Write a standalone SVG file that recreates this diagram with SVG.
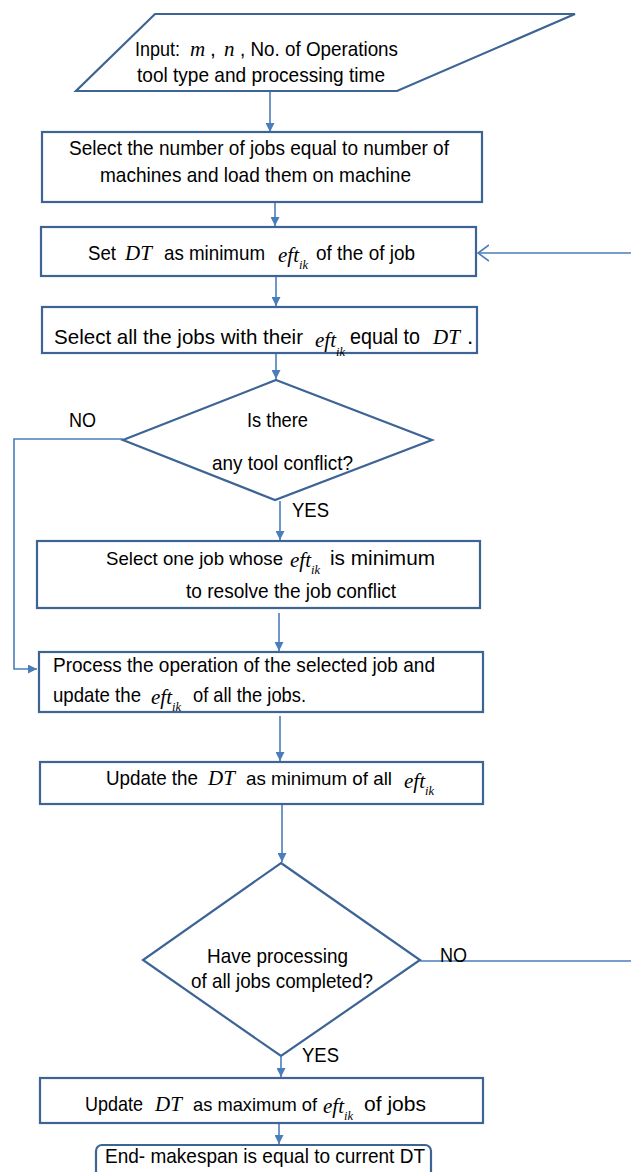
<svg xmlns="http://www.w3.org/2000/svg" width="631" height="1172" viewBox="0 0 631 1172">
<style>
.n{fill:#fff;stroke:#3D6494;stroke-width:2.2}
.c{fill:none;stroke:#4A7EBB;stroke-width:1.6}
.t{font-family:"Liberation Sans",Arial,sans-serif;font-size:21px;fill:#000}
.b{font-size:22.5px}
.v{font-family:"Liberation Serif","Times New Roman",serif;font-style:italic;font-size:21px;fill:#000}
.s{font-size:12.5px}
</style>
<defs>
<marker id="ah" viewBox="0 0 10 10" refX="10" refY="5" markerWidth="11" markerHeight="9" markerUnits="userSpaceOnUse" orient="auto"><path d="M0,0 L10,5 L0,10 z" fill="#4A7EBB"/></marker>
<marker id="oa" viewBox="0 0 12 18" refX="11" refY="9" markerWidth="12" markerHeight="18" markerUnits="userSpaceOnUse" orient="auto"><path d="M0,1 L11,9 L0,17" fill="none" stroke="#4A7EBB" stroke-width="1.6"/></marker>
</defs>
<rect width="631" height="1172" fill="#fff"/>
<g id="connectors">
<path class="c" d="M270,92 V132" marker-end="url(#ah)"/>
<path class="c" d="M275,203 V226" marker-end="url(#ah)"/>
<path class="c" d="M276,277 V306" marker-end="url(#ah)"/>
<path class="c" d="M276,354 V379" marker-end="url(#ah)"/>
<path class="c" d="M280,501 V540" marker-end="url(#ah)"/>
<path class="c" d="M279,613 V651" marker-end="url(#ah)"/>
<path class="c" d="M280,716 V761" marker-end="url(#ah)"/>
<path class="c" d="M282,801 V862" marker-end="url(#ah)"/>
<path class="c" d="M281,1057 V1077" marker-end="url(#ah)"/>
<path class="c" d="M279,1124 V1144" marker-end="url(#ah)"/>
<path class="c" d="M123,439 H14 V669 H37" marker-end="url(#ah)"/>
<path class="c" d="M420,961 H634 V253 H478" marker-end="url(#oa)"/>
<text class="t" x="69" y="427" textLength="27" lengthAdjust="spacingAndGlyphs">NO</text>
<text class="t" x="292" y="517" textLength="37" lengthAdjust="spacingAndGlyphs">YES</text>
<text class="t" x="440" y="962" textLength="27" lengthAdjust="spacingAndGlyphs">NO</text>
<text class="t" x="302" y="1062" textLength="37" lengthAdjust="spacingAndGlyphs">YES</text>
</g>
<g id="input">
<path class="n" d="M155,14 H575 L397,91 H76 Z"/>
<text class="t" x="135" y="56" textLength="45" lengthAdjust="spacingAndGlyphs">Input:</text>
<text class="v" x="190" y="56">m</text>
<text class="t" x="210" y="56">,</text>
<text class="v" x="224" y="56">n</text>
<text class="t" x="240" y="56" textLength="158" lengthAdjust="spacingAndGlyphs">, No. of Operations</text>
<text class="t" x="137" y="82" textLength="248" lengthAdjust="spacingAndGlyphs">tool type and processing time</text>
</g>
<g id="select-jobs">
<rect class="n" x="42" y="132" width="440" height="70"/>
<text class="t" x="69" y="155" textLength="380" lengthAdjust="spacingAndGlyphs">Select the number of jobs equal to number of</text>
<text class="t" x="100" y="182" textLength="311" lengthAdjust="spacingAndGlyphs">machines and load them on machine</text>
</g>
<g id="set-dt">
<rect class="n" x="41" y="227" width="435" height="49"/>
<text class="t" x="88" y="260" textLength="28" lengthAdjust="spacingAndGlyphs">Set</text>
<text class="v" x="125" y="260">DT</text>
<text class="t" x="164" y="260" textLength="101" lengthAdjust="spacingAndGlyphs">as minimum</text>
<text class="v" x="278" y="262">eft<tspan class="s" dy="7">ik</tspan></text>
<text class="t" x="316" y="260" textLength="99" lengthAdjust="spacingAndGlyphs">of the of job</text>
</g>
<g id="select-all">
<rect class="n" x="42" y="307" width="435" height="46"/>
<text class="t" style="font-size:20.4px" x="54" y="344" textLength="249" lengthAdjust="spacingAndGlyphs">Select all the jobs with their</text>
<text class="v" x="315" y="347">eft<tspan class="s" dy="9">ik</tspan></text>
<text class="t b" x="350" y="344" textLength="70" lengthAdjust="spacingAndGlyphs">equal to</text>
<text class="v" x="433" y="344">DT</text>
<text class="t b" x="467" y="344">.</text>
</g>
<g id="tool-conflict">
<path class="n" d="M276,380 L432,440 L275,500 L123,440 Z"/>
<text class="t" x="247" y="427" textLength="61" lengthAdjust="spacingAndGlyphs">Is there</text>
<text class="t" x="212" y="470" textLength="141" lengthAdjust="spacingAndGlyphs">any tool conflict?</text>
</g>
<g id="select-one">
<rect class="n" x="37" y="541" width="443" height="67"/>
<text class="t" style="font-size:18.5px" x="106" y="565" textLength="177" lengthAdjust="spacingAndGlyphs">Select one job whose</text>
<text class="v" x="290" y="567">eft<tspan class="s" dy="7">ik</tspan></text>
<text class="t" x="330" y="565" textLength="105" lengthAdjust="spacingAndGlyphs">is minimum</text>
<text class="t" x="186" y="598" textLength="210" lengthAdjust="spacingAndGlyphs">to resolve the job conflict</text>
</g>
<g id="process">
<rect class="n" x="39" y="652" width="444" height="60"/>
<text class="t" x="53" y="672" textLength="382" lengthAdjust="spacingAndGlyphs">Process the operation of the selected job and</text>
<text class="t" x="53" y="702" textLength="88" lengthAdjust="spacingAndGlyphs">update the</text>
<text class="v" x="151" y="704">eft<tspan class="s" dy="7">ik</tspan></text>
<text class="t" x="193" y="702" textLength="113" lengthAdjust="spacingAndGlyphs">of all the jobs.</text>
</g>
<g id="update-min">
<rect class="n" x="40" y="762" width="443" height="42"/>
<text class="t" x="106" y="785" textLength="92" lengthAdjust="spacingAndGlyphs">Update the</text>
<text class="v" x="208" y="785">DT</text>
<text class="t" style="font-size:18.6px" x="246" y="785" textLength="146" lengthAdjust="spacingAndGlyphs">as minimum of all</text>
<text class="v" x="404" y="788">eft<tspan class="s" dy="7">ik</tspan></text>
</g>
<g id="completed">
<path class="n" d="M281,863 L420,960 L281,1056 L143,960 Z"/>
<text class="t" x="207" y="963" textLength="141" lengthAdjust="spacingAndGlyphs">Have processing</text>
<text class="t" x="191" y="988" textLength="182" lengthAdjust="spacingAndGlyphs">of all jobs completed?</text>
</g>
<g id="update-max">
<rect class="n" x="40" y="1078" width="443" height="45"/>
<text class="t" x="85" y="1111" textLength="58" lengthAdjust="spacingAndGlyphs">Update</text>
<text class="v" x="155" y="1111">DT</text>
<text class="t" style="font-size:18.2px" x="193" y="1111" textLength="124" lengthAdjust="spacingAndGlyphs">as maximum of</text>
<text class="v" x="323" y="1113">eft<tspan class="s" dy="7">ik</tspan></text>
<text class="t" x="364" y="1111" textLength="62" lengthAdjust="spacingAndGlyphs">of jobs</text>
</g>
<g id="end">
<rect class="n" x="96" y="1145" width="335" height="34" rx="6"/>
<text class="t" x="105" y="1163" textLength="320" lengthAdjust="spacingAndGlyphs">End- makespan is equal to current DT</text>
</g>
</svg>
